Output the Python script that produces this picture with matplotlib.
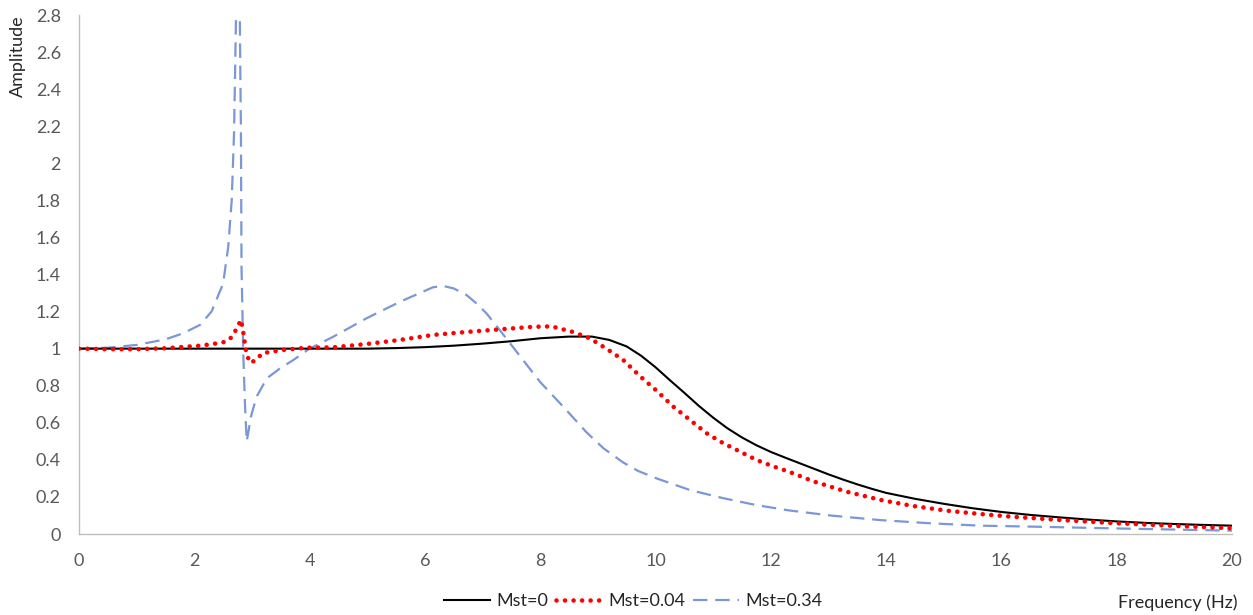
import matplotlib
matplotlib.use("Agg")
import matplotlib.pyplot as plt

plt.rcParams['font.family'] = ['Lato', 'DejaVu Sans']

# Mst = 0
freq_0 = [0, 1, 2, 3, 4, 5, 5.5, 6, 6.5, 7, 7.5, 8, 8.5, 8.9, 9.2, 9.5, 9.75,
          10, 10.25, 10.5, 10.75, 11, 11.25, 11.5, 11.75, 12, 12.25, 12.5,
          12.75, 13, 13.25, 13.5, 13.75, 14, 14.5, 15, 15.5, 16, 16.5, 17,
          17.5, 18, 18.5, 19, 19.5, 20]
amp_0 = [1, 1, 1, 1, 1, 1.0, 1.003, 1.008, 1.016, 1.027, 1.04, 1.056, 1.065,
         1.065, 1.047, 1.012, 0.962, 0.9, 0.83, 0.762, 0.692, 0.628, 0.57,
         0.521, 0.479, 0.443, 0.412, 0.382, 0.352, 0.322, 0.294, 0.268, 0.244,
         0.222, 0.19, 0.163, 0.139, 0.119, 0.103, 0.09, 0.078, 0.068, 0.06,
         0.054, 0.049, 0.045]

# Mst = 0.04
freq_004 = [0, 0.5, 1, 1.5, 1.84, 2.1, 2.3, 2.5, 2.62, 2.73, 2.81, 2.85, 2.89,
            2.92, 2.97, 3.05, 3.19, 3.54, 3.95, 4.41, 4.99, 5.57, 6.14, 6.72,
            7.3, 7.88, 8.2, 8.57, 8.86, 9.15, 9.44, 9.73, 10.02, 10.31, 10.6,
            10.89, 11.18, 11.47, 11.75, 12.04, 12.3, 12.74, 13.32, 13.9, 14.47,
            15.05, 15.63, 16.2, 17, 18, 19, 20]
amp_004 = [1.0, 0.997, 0.997, 1.002, 1.01, 1.016, 1.024, 1.034, 1.052, 1.104,
           1.155, 1.09, 1.0, 0.96, 0.924, 0.935, 0.976, 0.993, 1.005, 1.007,
           1.025, 1.047, 1.074, 1.09, 1.104, 1.118, 1.12, 1.09, 1.056, 1.0,
           0.939, 0.852, 0.773, 0.687, 0.615, 0.543, 0.489, 0.444, 0.40, 0.365,
           0.338, 0.284, 0.228, 0.184, 0.151, 0.126, 0.108, 0.093, 0.076,
           0.058, 0.044, 0.031]

# Mst = 0.34
freq_034 = [0, 0.5, 1, 1.5, 1.8, 2.1, 2.3, 2.5, 2.59, 2.65, 2.69, 2.72, 2.76,
            2.79, 2.81, 2.82, 2.85, 2.88, 2.91, 2.95, 2.98, 3.08, 3.26, 3.49,
            3.72, 4.0, 4.41, 4.99, 5.57, 6.14, 6.32, 6.5, 6.72, 6.9, 7.07, 7.3,
            7.59, 8.0, 8.4, 8.8, 9.1, 9.44, 9.7, 10.02, 10.6, 11.18, 11.75,
            12.3, 13.03, 13.9, 14.76, 15.63, 16.5, 18, 20]
amp_034 = [1.0, 1.005, 1.02, 1.05, 1.082, 1.128, 1.2, 1.35, 1.55, 1.8, 2.16,
           2.7, 3.6, 2.8, 2.16, 1.44, 0.98, 0.7, 0.5, 0.57, 0.63, 0.74, 0.84,
           0.894, 0.939, 1.0, 1.064, 1.164, 1.253, 1.331, 1.338, 1.325, 1.29,
           1.243, 1.19, 1.10, 0.984, 0.82, 0.687, 0.55, 0.462, 0.386, 0.34,
           0.3, 0.237, 0.193, 0.156, 0.128, 0.10, 0.075, 0.058, 0.045, 0.04,
           0.03, 0.018]

x_ticks = [0, 2, 4, 6, 8, 10, 12, 14, 16, 18, 20]
y_ticks = [0, 0.2, 0.4, 0.6, 0.8, 1, 1.2, 1.4, 1.6, 1.8, 2, 2.2, 2.4, 2.6, 2.8]
y_tick_labels = ['0', '0.2', '0.4', '0.6', '0.8', '1', '1.2', '1.4', '1.6',
                 '1.8', '2', '2.2', '2.4', '2.6', '2.8']

fig = plt.figure(figsize=(12.53, 6.15), dpi=100)
ax = fig.add_axes([0.063, 0.1317, 0.9202, 0.8439])

ax.plot(freq_0, amp_0, color='black', lw=1.5, label='Mst=0', zorder=3)
ax.plot(freq_004, amp_004, color='#FF0000', lw=3.3,
        linestyle=(0, (0.01, 1.85)), dash_capstyle='round',
        label='Mst=0.04', zorder=4)
ax.plot(freq_034, amp_034, color='#7A97D6', lw=1.6,
        linestyle=(0, (6.5, 3.5)), label='Mst=0.34', zorder=2)

ax.set_xlim(0, 20)
ax.set_ylim(0, 2.8)
ax.set_xticks(x_ticks)
ax.set_yticks(y_ticks)
ax.set_yticklabels(y_tick_labels)
ax.tick_params(length=0, labelsize=13, colors='#595959')
ax.tick_params(axis='x', pad=14)
ax.tick_params(axis='y', pad=13)

for side in ['top', 'right']:
    ax.spines[side].set_visible(False)
for side in ['left', 'bottom']:
    ax.spines[side].set_color('#BFBFBF')
    ax.spines[side].set_linewidth(1.0)

fig.text(18 / 1253, 1 - 56 / 615, 'Amplitude', rotation=90,
         ha='center', va='center', fontsize=13, color='#262626')
fig.text(1178 / 1253, 1 - 603 / 615, 'Frequency (Hz)',
         ha='center', va='center', fontsize=13, color='#262626')

fig.legend(loc='center', bbox_to_anchor=(633 / 1253, 1 - 601 / 615),
           ncol=3, frameon=False, fontsize=13, handlelength=2.55,
           handletextpad=0.33, columnspacing=0.45, labelcolor='#262626')

fig.savefig('out.png', dpi=100)
